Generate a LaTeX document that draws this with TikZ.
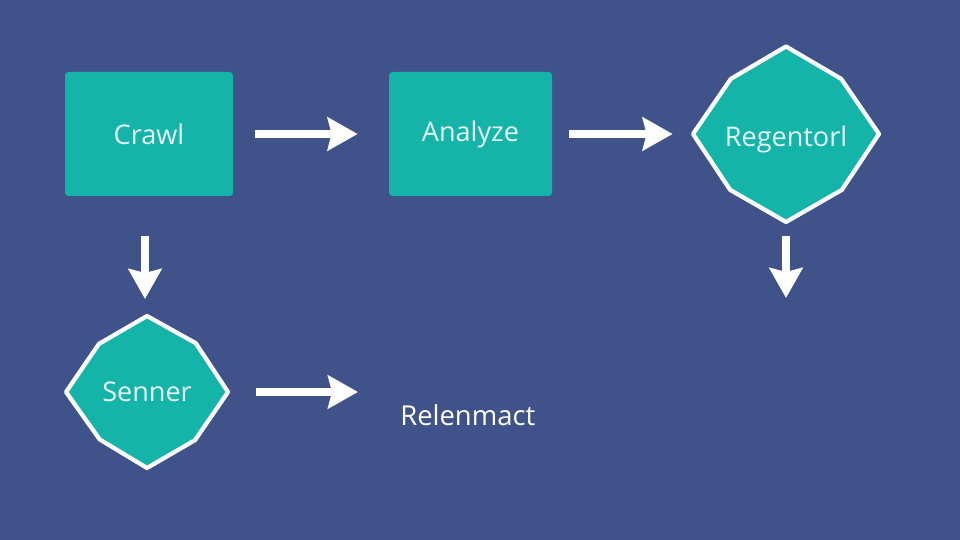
\documentclass[tikz,border=0pt]{standalone}
\usepackage{fontspec}
\setmainfont{Open Sans}
\usepackage{tikz}
\usetikzlibrary{positioning,arrows.meta,calc,shapes.geometric}
\definecolor{bgblue}{HTML}{3F5289}
\definecolor{teal}{HTML}{14B4A9}
\definecolor{mint}{HTML}{E6F7F3}
\tikzset{
  stage/.style={rectangle, rounded corners=2pt, fill=teal, minimum width=3.36cm, minimum height=2.48cm, inner sep=0pt, text=mint, font=\fontsize{15.4}{18}\selectfont},
  gate/.style ={diamond, inner sep=0pt, text=mint, font=\fontsize{15.4}{18}\selectfont},
  gateline/.style={fill=teal, draw=white, line width=2.4pt, line join=round},
  note/.style ={inner sep=0pt, text=white, font=\fontsize{15.6}{18}\selectfont},
  flow/.style ={draw=white, line width=4pt, -{Stealth[length=6mm, width=6.6mm, inset=0.8mm]}},
}
\begin{document}
\begin{tikzpicture}
\fill[bgblue] (0,0) rectangle (19.2,10.8);
\useasboundingbox (0,0) rectangle (19.2,10.8);
\coordinate (regc) at (15.72,8.12);
\coordinate (senc) at (2.94,2.96);
% octagon outlines
\filldraw[gateline, shift={(regc)}] (90:1.75) -- (45:1.56) -- (0:1.86) -- (-45:1.58) -- (-90:1.76) -- (-135:1.58) -- (180:1.86) -- (135:1.56) -- cycle;
\filldraw[gateline, shift={(senc)}] (90:1.52) -- (45:1.38) -- (0:1.62) -- (-45:1.36) -- (-90:1.52) -- (-135:1.34) -- (180:1.62) -- (135:1.36) -- cycle;
\node[stage] (crawl) at (2.98,8.12) {Crawl};
\node[stage, minimum width=3.26cm] (analyze) at (9.41,8.12) {Analyze};
\node[gate, minimum width=3.72cm, minimum height=3.5cm] (regent) at (regc) {\raisebox{-1pt}[\height][0pt]{Regentorl}};
\node[gate, minimum width=3.24cm, minimum height=3.04cm] (senner) at (senc) {Senner};
\node[note, anchor=west] (relen) at (8.00,2.50) {Relenmact};
\coordinate (dn1) at (2.90,4.82);
\coordinate (dn2) at (15.72,4.84);
\draw[flow, shorten <=0.44cm, shorten >=0.62cm] (crawl) -- (analyze);
\draw[flow, shorten <=0.34cm, shorten >=0.40cm] (analyze) -- (regent);
\draw[flow, shorten <=0.80cm] (crawl.south -| dn1) -- (dn1);
\draw[flow, shorten <=0.28cm] (regent.south) -- (dn2);
\draw[flow, shorten <=0.56cm, shorten >=0.84cm] (senner.east) -- (senner.east -| relen.west);

\end{tikzpicture}
\end{document}
